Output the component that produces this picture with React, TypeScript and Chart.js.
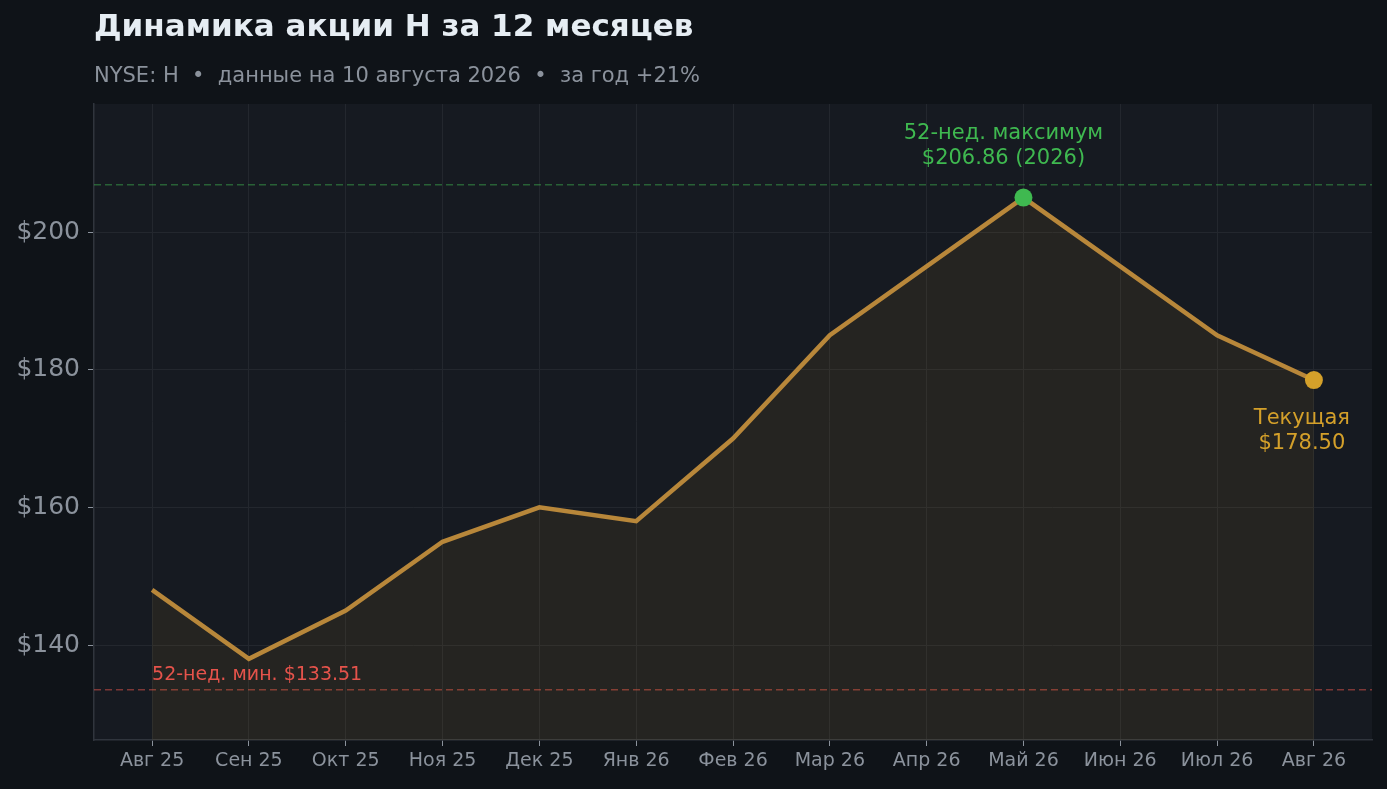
import React, { useEffect, useRef } from 'react';
import Chart from 'chart.js/auto';

const months = ['Авг 25', 'Сен 25', 'Окт 25', 'Ноя 25', 'Дек 25', 'Янв 26', 'Фев 26', 'Мар 26', 'Апр 26', 'Май 26', 'Июн 26', 'Июл 26', 'Авг 26'];
const prices = [148, 138, 145, 155, 160, 158, 170, 185, 195, 205, 195, 185, 178.5];
const yTicks = [140, 160, 180, 200];
const high52 = 206.86;
const low52 = 133.51;
const highIndex = 9;
const currentIndex = 12;

const titleText = 'Динамика акции H за 12 месяцев';
const subtitleText = 'NYSE: H  •  данные на 10 августа 2026  •  за год +21%';
const highLabel = ['52-нед. максимум', '$206.86 (2026)'];
const lowLabel = '52-нед. мин. $133.51';
const currentLabel = ['Текущая', '$178.50'];

const FONT = '"DejaVu Sans", sans-serif';
const GREEN = '#3fb950';
const RED = '#e5534b';
const GOLD = '#d4a02a';
const MUTED = '#8b929c';

const decorPlugin = {
  id: 'decor',
  beforeDraw(chart: any) {
    const { ctx, chartArea: a, width, height } = chart;
    ctx.save();
    ctx.fillStyle = '#0f1318';
    ctx.fillRect(0, 0, width, height);
    ctx.fillStyle = '#161a21';
    ctx.fillRect(a.left, a.top, a.right - a.left, a.bottom - a.top);
    ctx.restore();
  },
  beforeDatasetsDraw(chart: any) {
    const { ctx, chartArea: a, scales } = chart;
    const y = scales.y;
    ctx.save();
    ctx.lineWidth = 1.5;
    ctx.setLineDash([7, 4]);
    ctx.strokeStyle = 'rgba(63,185,80,0.45)';
    const yh = y.getPixelForValue(high52);
    ctx.beginPath();
    ctx.moveTo(a.left, yh);
    ctx.lineTo(a.right, yh);
    ctx.stroke();
    ctx.strokeStyle = 'rgba(229,83,75,0.5)';
    const yl = y.getPixelForValue(low52);
    ctx.beginPath();
    ctx.moveTo(a.left, yl);
    ctx.lineTo(a.right, yl);
    ctx.stroke();
    ctx.restore();
  },
  afterDraw(chart: any) {
    const { ctx, chartArea: a, scales } = chart;
    const x = scales.x;
    const y = scales.y;
    ctx.save();
    // заголовок
    ctx.textBaseline = 'middle';
    ctx.textAlign = 'left';
    ctx.fillStyle = '#e6edf3';
    ctx.font = `bold 31px ${FONT}`;
    ctx.fillText(titleText, a.left, 28);
    ctx.fillStyle = MUTED;
    ctx.font = `21px ${FONT}`;
    ctx.fillText(subtitleText, a.left, 77);

    // минимум
    ctx.fillStyle = RED;
    ctx.font = `19px ${FONT}`;
    ctx.fillText(lowLabel, x.getPixelForValue(0), y.getPixelForValue(low52) - 15);

    // максимум
    ctx.textAlign = 'center';
    ctx.fillStyle = GREEN;
    ctx.font = `21px ${FONT}`;
    const hx = x.getPixelForValue(highIndex) - 20;
    const hy = y.getPixelForValue(high52);
    ctx.fillText(highLabel[0], hx, hy - 51);
    ctx.fillText(highLabel[1], hx, hy - 26);

    // текущая
    ctx.fillStyle = GOLD;
    const cx = x.getPixelForValue(currentIndex) - 12;
    const cy = y.getPixelForValue(prices[currentIndex]);
    ctx.fillText(currentLabel[0], cx, cy + 39);
    ctx.fillText(currentLabel[1], cx, cy + 64);
    ctx.restore();
  },
};

export default function App() {
  const chartRef = useRef<HTMLCanvasElement>(null);
  const chartInstance = useRef<Chart | null>(null);

  useEffect(() => {
    if (!chartRef.current) return;
    if (chartInstance.current) chartInstance.current.destroy();
    const ctx = chartRef.current.getContext('2d');
    if (!ctx) return;

    const lineData = prices.map((v, i) => ({ x: i, y: v }));
    const markers = [highIndex, currentIndex].map((i) => ({ x: i, y: prices[i] }));

    chartInstance.current = new Chart(ctx, {
      type: 'line',
      data: {
        datasets: [
          {
            data: markers,
            showLine: false,
            pointRadius: 9,
            pointHoverRadius: 9,
            pointBorderWidth: 0,
            pointBackgroundColor: [GREEN, GOLD],
            order: 0,
          },
          {
            data: lineData,
            borderColor: '#b8873a',
            borderWidth: 4.5,
            backgroundColor: 'rgba(212,160,42,0.08)',
            fill: 'start',
            pointRadius: 0,
            tension: 0,
            order: 1,
          },
        ],
      },
      options: {
        responsive: false,
        animation: false,
        devicePixelRatio: 1,
        layout: { padding: { top: 104, right: 15, left: 0, bottom: 0 } },
        plugins: { legend: { display: false }, tooltip: { enabled: false } },
        scales: {
          x: {
            type: 'linear',
            min: -0.6,
            max: 12.6,
            afterBuildTicks: (s: any) => {
              s.ticks = months.map((_, i) => ({ value: i }));
            },
            afterFit: (s: any) => {
              s.height = 49;
            },
            ticks: {
              autoSkip: false,
              maxRotation: 0,
              padding: 4,
              color: MUTED,
              font: { family: FONT, size: 19 },
              callback: (v: any) => months[v as number],
            },
            grid: { color: '#23272e', tickColor: MUTED, tickLength: 6, lineWidth: 1 },
            border: { color: '#30353d', width: 1.5 },
          },
          y: {
            min: 126.2,
            max: 218.6,
            afterBuildTicks: (s: any) => {
              s.ticks = yTicks.map((v) => ({ value: v }));
            },
            afterFit: (s: any) => {
              s.width = 94;
            },
            ticks: {
              padding: 8,
              color: MUTED,
              font: { family: FONT, size: 25 },
              callback: (v: any) => '$' + v,
            },
            grid: { color: '#23272e', tickColor: MUTED, tickLength: 6, lineWidth: 1 },
            border: { color: '#30353d', width: 1.5 },
          },
        },
      },
      plugins: [decorPlugin],
    });

    return () => {
      if (chartInstance.current) chartInstance.current.destroy();
    };
  }, []);

  return (
    <div style={{ position: 'fixed', left: 0, top: 0, width: 1387, height: 789, background: '#0f1318' }}>
      <canvas ref={chartRef} width={1387} height={789}></canvas>
    </div>
  );
}
